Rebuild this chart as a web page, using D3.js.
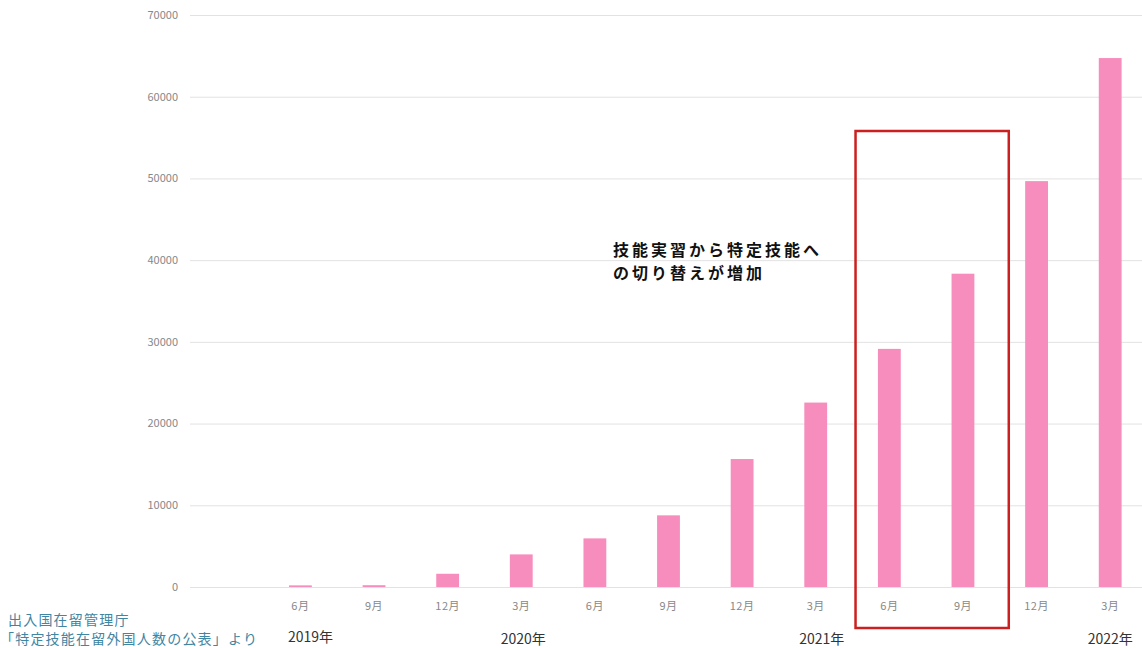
<!DOCTYPE html>
<html>
<head>
<meta charset="utf-8">
<script src="https://cdn.jsdelivr.net/npm/d3@7"></script>
<style>
  body { margin: 0; background: #fff; }
  svg { display: block; font-family: "Noto Sans CJK JP", "Noto Sans", sans-serif; }
</style>
</head>
<body>
<svg id="chart" width="1142" height="648"></svg>
<script>
// data
const months = ["", "6月", "9月", "12月", "3月", "6月", "9月", "12月", "3月", "6月", "9月", "12月", "3月"];
const workers = [null, 200, 220, 1620, 3990, 5950, 8770, 15660, 22570, 29140, 38340, 49670, 64730];
const yTicks = [0, 10000, 20000, 30000, 40000, 50000, 60000, 70000];
const years = [
  { label: "2019年", at: 1, dx: 10, dy: 55 },
  { label: "2020年", at: 4, dx: 2, dy: 57 },
  { label: "2021年", at: 8, dx: 6, dy: 57 },
  { label: "2022年", at: 12, dx: 0, dy: 57 }
];
const sourceLines = ["出入国在留管理庁", "「特定技能在留外国人数の公表」より"];
const noteLines = ["技能実習から特定技能へ", "の切り替えが増加"];

const svg = d3.select("#chart");
const idx = months.map((d, i) => i);

const x = d3.scaleBand()
  .domain(idx)
  .range([190, 1147])
  .paddingInner(0.69)
  .paddingOuter(0.345);

const y = d3.scaleLinear()
  .domain([0, 70000])
  .range([587, 15]);

// grid
svg.append("g")
  .selectAll("line")
  .data(yTicks)
  .join("line")
  .attr("x1", 190)
  .attr("x2", 1142)
  .attr("y1", d => y(d) + 0.5)
  .attr("y2", d => y(d) + 0.5)
  .attr("stroke", "#e2e2e2")
  .attr("stroke-width", 1);

// y labels
svg.append("g")
  .selectAll("text")
  .data(yTicks)
  .join("text")
  .attr("x", 178)
  .attr("y", d => y(d))
  .attr("dy", "0.35em")
  .attr("text-anchor", "end")
  .attr("fill", "#888")
  .attr("font-size", "11px")
  .text(d => d);

// bars
svg.append("g")
  .selectAll("rect")
  .data(workers.map((v, i) => ({ i, v })).filter(d => d.v != null))
  .join("rect")
  .attr("x", d => x(d.i))
  .attr("width", x.bandwidth())
  .attr("y", d => y(d.v))
  .attr("height", d => y(0) - y(d.v))
  .attr("fill", "#f78dbd");

// month labels
svg.append("g")
  .selectAll("text")
  .data(idx)
  .join("text")
  .attr("x", d => x(d) + x.bandwidth() / 2)
  .attr("y", 610)
  .attr("text-anchor", "middle")
  .attr("fill", "#888")
  .attr("font-size", "11px")
  .attr("letter-spacing", "0.5px")
  .text(d => months[d]);

// year labels
svg.append("g")
  .selectAll("text")
  .data(years)
  .join("text")
  .attr("x", d => x(d.at) + x.bandwidth() / 2 + d.dx)
  .attr("y", d => y(0) + d.dy)
  .attr("text-anchor", "middle")
  .attr("fill", "#333")
  .attr("font-size", "14px")
  .text(d => d.label);

// source
svg.append("g")
  .selectAll("text")
  .data(sourceLines)
  .join("text")
  .attr("x", (d, i) => i === 0 ? 8 : 0)
  .attr("y", (d, i) => 625 + i * 19)
  .attr("fill", "#3f86a3")
  .attr("font-size", "14px")
  .attr("letter-spacing", "1.2px")
  .text(d => d);

// highlight box around 6月 / 9月 2021
const step = x.step();
svg.append("rect")
  .attr("x", x(9) - (step - x.bandwidth()) / 2 + 3)
  .attr("y", 131)
  .attr("width", step * 2 + 6)
  .attr("height", 497)
  .attr("fill", "none")
  .attr("stroke", "#cc1f1f")
  .attr("stroke-width", 2.5);

// annotation
svg.append("g")
  .selectAll("text")
  .data(noteLines)
  .join("text")
  .attr("x", 613)
  .attr("y", (d, i) => 256 + i * 23)
  .attr("fill", "#111")
  .attr("font-size", "16px")
  .attr("font-weight", "bold")
  .attr("letter-spacing", "3px")
  .text(d => d);
</script>
</body>
</html>
